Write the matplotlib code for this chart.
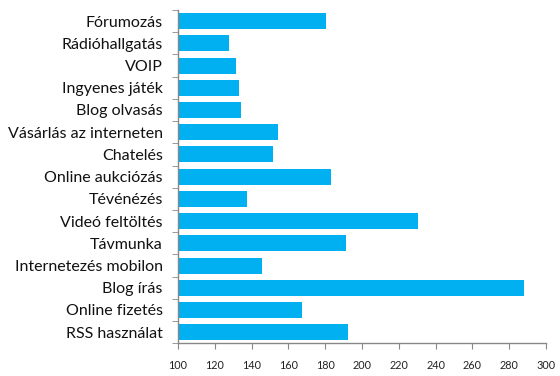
import matplotlib
matplotlib.use("Agg")
import matplotlib.pyplot as plt
import numpy as np

categories = ["Fórumozás", "Rádióhallgatás", "VOIP", "Ingyenes játék", "Blog olvasás",
              "Vásárlás az interneten", "Chatelés", "Online aukciózás", "Tévénézés",
              "Videó feltöltés", "Távmunka", "Internetezés mobilon", "Blog írás",
              "Online fizetés", "RSS használat"]
values = [180.3, 127.7, 131.4, 133.4, 134.3, 154.4, 151.5, 182.9, 137.3,
          230.4, 191.4, 145.9, 288.0, 167.4, 192.5]
xticks = [100, 120, 140, 160, 180, 200, 220, 240, 260, 280, 300]

plt.rcParams['font.family'] = ['Lato', 'DejaVu Sans']

fig = plt.figure(figsize=(5.6, 3.76), dpi=100)
ax = fig.add_axes([178/560, 1-343.3/376, (546-178)/560, (343.3-10)/376])

n = len(categories)
y = np.arange(n)[::-1]
ax.barh(y, [v - 100 for v in values], left=100, height=0.72, color='#00B0F0')
ax.set_xlim(100, 300)
ax.set_ylim(-0.5, n - 0.5)
ax.set_xticks(xticks)
ax.set_xticklabels([str(t) for t in xticks], fontsize=7.8, color='#222222')
ax.set_yticks(y)
ax.set_yticklabels(categories, fontsize=11.5, color='#111111')
ax.set_yticks(np.arange(n + 1) - 0.5, minor=True)
ax.tick_params(axis='y', which='major', length=0, pad=11)
ax.tick_params(axis='y', which='minor', length=4, color='#888888', direction='out')
ax.tick_params(axis='x', which='major', length=4, color='#888888', direction='out', pad=8)
for s in ['top', 'right']:
    ax.spines[s].set_visible(False)
for s in ['left', 'bottom']:
    ax.spines[s].set_color('#888888')
    ax.spines[s].set_linewidth(1.0)

fig.savefig('out.png', dpi=100)
